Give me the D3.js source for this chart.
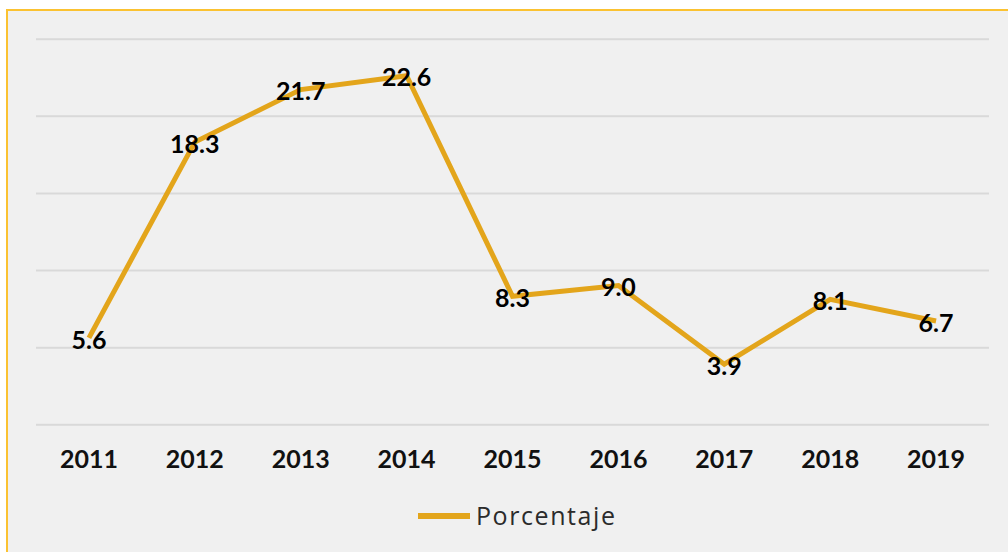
<!DOCTYPE html>
<html>
<head>
<meta charset="utf-8">
<script src="https://cdn.jsdelivr.net/npm/d3@7"></script>
<style>
  body { margin: 0; background: #ffffff; }
  svg { display: block; }
</style>
</head>
<body>
<div id="chart"></div>
<script>
// data
const years = ["2011", "2012", "2013", "2014", "2015", "2016", "2017", "2018", "2019"];
const porcentaje = [5.6, 18.3, 21.7, 22.6, 8.3, 9.0, 3.9, 8.1, 6.7];
const yTicks = [0, 5, 10, 15, 20, 25];
const seriesName = "Porcentaje";

const width = 1008;
const height = 552;

let dimensions = {
  width: width,
  height: height,
  margin: { top: 38.7, right: 19, bottom: 127.7, left: 36 }
};
dimensions.boundedWidth = dimensions.width - dimensions.margin.left - dimensions.margin.right;
dimensions.boundedHeight = dimensions.height - dimensions.margin.top - dimensions.margin.bottom;

const lineColor = "#e3a51b";

const svg = d3.select("#chart")
  .append("svg")
  .attr("width", dimensions.width)
  .attr("height", dimensions.height);

// panel background with the yellow frame on top and left
svg.append("rect")
  .attr("x", 6).attr("y", 9)
  .attr("width", width - 6).attr("height", height - 9)
  .attr("fill", "#f0f0f0");
svg.append("path")
  .attr("d", `M7,${height} L7,10 L${width},10`)
  .attr("fill", "none")
  .attr("stroke", "#fbc231")
  .attr("stroke-width", 2);

const graph = svg.append("g")
  .attr("transform", `translate(${dimensions.margin.left}, ${dimensions.margin.top})`);

const xScale = d3.scaleBand()
  .domain(years)
  .range([0, dimensions.boundedWidth])
  .paddingInner(0)
  .paddingOuter(0);

const yScale = d3.scaleLinear()
  .domain([0, 25])
  .range([dimensions.boundedHeight, 0]);

const xCenter = d => xScale(d) + xScale.bandwidth() / 2;

// horizontal gridlines
const yAxis = d3.axisLeft(yScale)
  .tickValues(yTicks)
  .tickSize(-dimensions.boundedWidth)
  .tickFormat("");
const gYAxis = graph.append("g").call(yAxis);
gYAxis.select(".domain").remove();
gYAxis.selectAll(".tick line")
  .attr("stroke", "#d9d9d9")
  .attr("stroke-width", 2);

// year labels
const xAxis = d3.axisBottom(xScale).tickSize(0).tickPadding(0);
const gXAxis = graph.append("g")
  .attr("transform", `translate(0, ${dimensions.boundedHeight})`)
  .call(xAxis);
gXAxis.select(".domain").remove();
gXAxis.selectAll("text")
  .attr("y", 35)
  .attr("dy", "0.35em")
  .attr("fill", "#111")
  .style("font-family", "Lato, 'DejaVu Sans', sans-serif")
  .style("font-weight", "bold")
  .style("font-size", "25px");

// the line
const lineGenerator = d3.line()
  .x((d, i) => xCenter(years[i]))
  .y(d => yScale(d));

graph.append("path")
  .attr("d", lineGenerator(porcentaje))
  .attr("fill", "none")
  .attr("stroke", lineColor)
  .attr("stroke-width", 5)
  .attr("stroke-linejoin", "miter");

// value labels sit right on the points
graph.selectAll(".value-label")
  .data(porcentaje)
  .enter()
  .append("text")
  .attr("class", "value-label")
  .attr("x", (d, i) => xCenter(years[i]))
  .attr("y", d => yScale(d) + 2)
  .attr("dy", "0.35em")
  .attr("text-anchor", "middle")
  .attr("fill", "#000")
  .style("font-family", "Lato, 'DejaVu Sans', sans-serif")
  .style("font-weight", "bold")
  .style("font-size", "25px")
  .text(d => d.toFixed(1));

// legend
const legend = svg.append("g")
  .attr("transform", "translate(418, 516)");
legend.append("line")
  .attr("x1", 0).attr("x2", 52)
  .attr("y1", 0).attr("y2", 0)
  .attr("stroke", lineColor)
  .attr("stroke-width", 6);
legend.append("text")
  .attr("x", 58)
  .attr("y", 0)
  .attr("dy", "0.35em")
  .attr("fill", "#2b2b2b")
  .attr("textLength", 139)
  .attr("lengthAdjust", "spacing")
  .style("font-family", "'Open Sans', sans-serif")
  .style("font-size", "25px")
  .text(seriesName);
</script>
</body>
</html>
